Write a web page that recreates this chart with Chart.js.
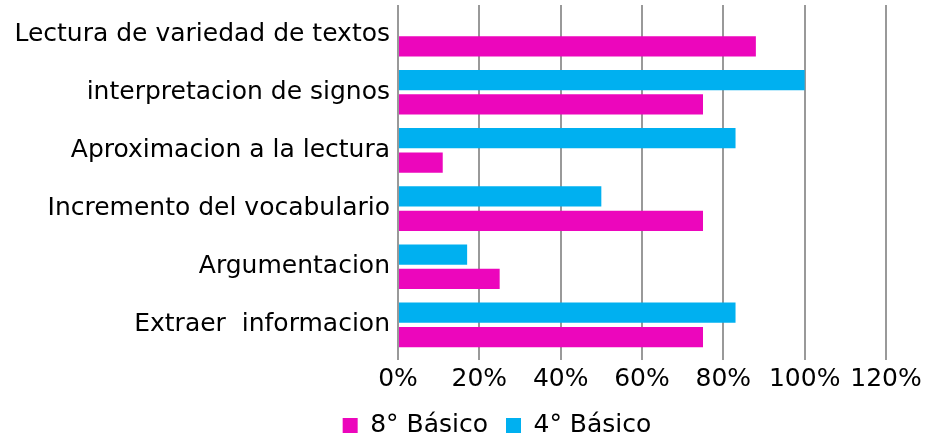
<!DOCTYPE html>
<html>
<head>
<meta charset="utf-8">
<script src="https://cdn.jsdelivr.net/npm/chart.js@4"></script>
<style>
html,body{margin:0;padding:0;background:#fff;}
#wrap{width:927px;height:442px;position:relative;}
</style>
</head>
<body>
<div id="wrap"><canvas id="c" width="927" height="442"></canvas></div>
<script>
const categories = [
  "Lectura de variedad de textos",
  "interpretacion de signos",
  "Aproximacion a la lectura",
  "Incremento del vocabulario",
  "Argumentacion",
  "Extraer  informacion"
];
const seriesNames = ["4° Básico", "8° Básico"];
const values4 = [0, 1.00, 0.83, 0.50, 0.17, 0.83];
const values8 = [0.88, 0.75, 0.11, 0.75, 0.25, 0.75];
const xTicks = [0, 0.2, 0.4, 0.6, 0.8, 1.0, 1.2];

const FONT = "'DejaVu Sans', sans-serif";
Chart.defaults.font.family = FONT;
Chart.defaults.color = '#000';

const legendShift = {
  id: 'legendShift',
  afterLayout(chart) {
    const lg = chart.legend;
    if (!lg) return;
    lg.left += 54; lg.right += 54;
    lg.top -= 3; lg.bottom -= 3;
  }
};

new Chart(document.getElementById('c'), {
  type: 'bar',
  data: {
    labels: categories,
    datasets: [
      { label: seriesNames[0], data: values4, backgroundColor: '#00B0F0', borderWidth: 0 },
      { label: seriesNames[1], data: values8, backgroundColor: '#EC06BC', borderWidth: 0 }
    ]
  },
  plugins: [legendShift],
  options: {
    indexAxis: 'y',
    responsive: false,
    animation: false,
    categoryPercentage: 0.84,
    barPercentage: 0.83,
    layout: { padding: { top: 5, right: 41, left: 0, bottom: -9 } },
    plugins: {
      tooltip: { enabled: false },
      legend: {
        position: 'bottom',
        reverse: true,
        labels: {
          boxWidth: 15, boxHeight: 15, padding: 18,
          font: { size: 25, family: FONT }, color: '#000'
        }
      }
    },
    scales: {
      x: {
        min: 0, max: 1.2,
        afterBuildTicks: (s) => { s.ticks = xTicks.map(v => ({ value: v })); },
        afterFit: (s) => { s.paddingLeft = 0; s.paddingRight = 0; },
        ticks: {
          callback: (v) => Math.round(v * 100) + '%',
          font: { size: 25, family: FONT }, color: '#000', padding: 4,
          maxRotation: 0
        },
        grid: { color: '#999', lineWidth: 2, drawTicks: true, tickLength: 6 },
        border: { display: false }
      },
      y: {
        afterFit: (s) => { s.width = 398; s.paddingTop = 0; s.paddingBottom = 0; },
        ticks: { font: { size: 25, family: FONT }, color: '#000', padding: 8 },
        grid: { display: false, drawTicks: false },
        border: { display: false }
      }
    }
  }
});
</script>
</body>
</html>
